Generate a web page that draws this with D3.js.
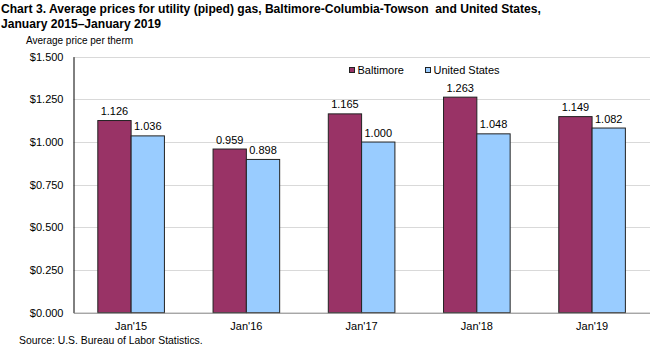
<!DOCTYPE html>
<html><head><meta charset="utf-8">
<script src="https://cdn.jsdelivr.net/npm/d3@7"></script>
<style>body{margin:0;background:#fff}svg{display:block;font-family:"Liberation Sans",Arial,sans-serif}</style>
</head><body><svg id="c" width="650" height="348"></svg>
<script>
const categories = ["Jan'15","Jan'16","Jan'17","Jan'18","Jan'19"];
const seriesNames = ["Baltimore","United States"];
const baltimore = [1.126,0.959,1.165,1.263,1.149];
const unitedStates = [1.036,0.898,1.000,1.048,1.082];
const yTicks = [0,0.25,0.5,0.75,1.0,1.25,1.5];
const colors = ["#993366","#99ccff"];

const svg = d3.select("#c");
const L=73.5, R=649.7, T=56.7, B=312.7;
const x0 = d3.scaleBand().domain(categories).range([L,R]).paddingInner(0.422).paddingOuter(0.211);
const x1 = d3.scaleBand().domain(seriesNames).range([0,x0.bandwidth()]);
const y = d3.scaleLinear().domain([0,1.5]).range([B,T]);

// title
const title = svg.append("text").attr("x",1).attr("y",12.5).attr("font-size",12.1).attr("font-weight","bold").attr("fill","#000").style("white-space","pre");
title.append("tspan").attr("x",1).text("Chart 3. Average prices for utility (piped) gas, Baltimore-Columbia-Towson  and United States,");
title.append("tspan").attr("x",1).attr("dy",15).text("January 2015\u2013January 2019");
svg.append("text").attr("x",26).attr("y",44).attr("font-size",10).text("Average price per therm");

// gridlines
svg.append("g").selectAll("line").data(yTicks.filter(d=>d>0)).join("line")
  .attr("x1",L).attr("x2",650).attr("y1",d=>Math.round(y(d))+0.5).attr("y2",d=>Math.round(y(d))+0.5)
  .attr("stroke","#d9d9d9").attr("stroke-width",1);

// y axis
const yAxis = d3.axisLeft(y).tickValues(yTicks).tickFormat(d=>"$"+d3.format(".3f")(d)).tickSize(0).tickPadding(10);
const gy = svg.append("g").attr("transform",`translate(${L},0)`).call(yAxis);
gy.select(".domain").attr("stroke","#000");
gy.selectAll("text").attr("font-size",11).attr("fill","#000").attr("font-family","Liberation Sans, Arial, sans-serif");

// bars
const data = categories.map((c,i)=>({c, vals:[baltimore[i],unitedStates[i]]}));
const groups = svg.append("g").selectAll("g").data(data).join("g").attr("transform",d=>`translate(${x0(d.c)},0)`);
groups.selectAll("rect").data(d=>d.vals.map((v,j)=>({v,s:seriesNames[j],j}))).join("rect")
  .attr("x",d=>x1(d.s)).attr("width",x1.bandwidth()).attr("y",d=>y(d.v)).attr("height",d=>y(0)-y(d.v))
  .attr("fill",d=>colors[d.j]).attr("stroke","#222").attr("stroke-width",1);
groups.selectAll("text").data(d=>d.vals.map((v,j)=>({v,s:seriesNames[j]}))).join("text")
  .attr("x",d=>x1(d.s)+x1.bandwidth()/2).attr("y",d=>y(d.v)-5.5).attr("text-anchor","middle")
  .attr("font-size",11).attr("fill","#000").text(d=>d3.format(".3f")(d.v));

// x axis
const xAxis = d3.axisBottom(x0).tickSize(0).tickPadding(10);
const gx = svg.append("g").attr("transform",`translate(0,${B})`).call(xAxis);
gx.select(".domain").attr("stroke","#808080");
gx.selectAll("text").attr("font-size",11).attr("fill","#000").attr("font-family","Liberation Sans, Arial, sans-serif");

// legend
const lg = svg.append("g");
const lx = [349,425];
seriesNames.forEach((s,i)=>{
  lg.append("rect").attr("x",lx[i]+0.5).attr("y",67.5).attr("width",5).attr("height",5).attr("fill",colors[i]).attr("stroke","#222");
  lg.append("text").attr("x",lx[i]+8.5).attr("y",73.5).attr("font-size",11).text(s);
});

svg.append("text").attr("x",19).attr("y",344).attr("font-size",10.4).text("Source: U.S. Bureau of Labor Statistics.");
</script></body></html>
